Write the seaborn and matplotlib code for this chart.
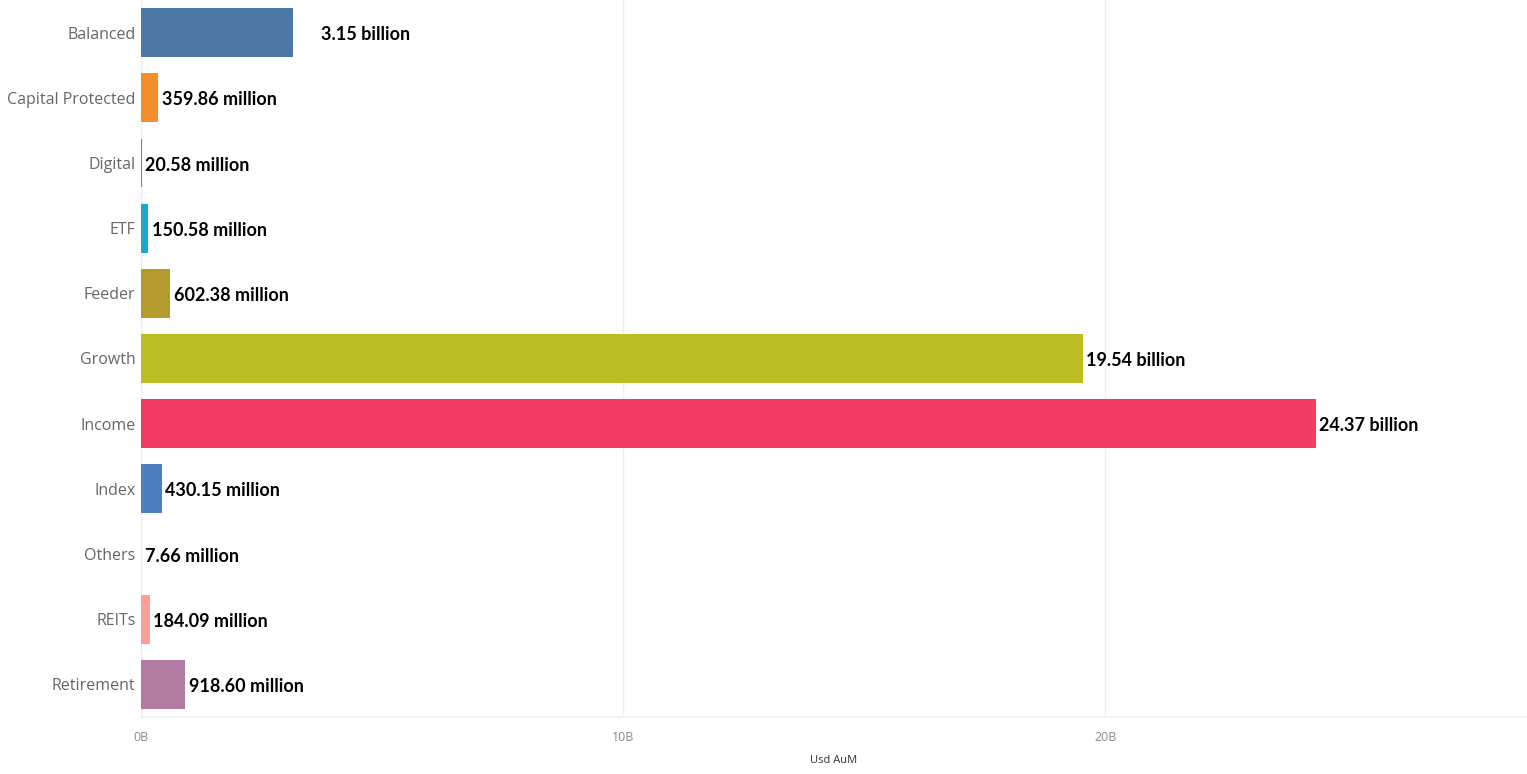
import matplotlib
matplotlib.use("Agg")
import matplotlib.pyplot as plt
import seaborn as sns
import pandas as pd
from matplotlib.ticker import FuncFormatter

categories = ["Balanced", "Capital Protected", "Digital", "ETF", "Feeder", "Growth",
              "Income", "Index", "Others", "REITs", "Retirement"]
aum_usd = [3.15e9, 359.86e6, 20.58e6, 150.58e6, 602.38e6, 19.54e9,
           24.37e9, 430.15e6, 7.66e6, 184.09e6, 918.60e6]
value_labels = ["3.15 billion", "359.86 million", "20.58 million", "150.58 million",
                "602.38 million", "19.54 billion", "24.37 billion", "430.15 million",
                "7.66 million", "184.09 million", "918.60 million"]
bar_colors = ["#4e79a7", "#f28e2b", "#e15759", "#17a8cc", "#b59a2e", "#bcbd22",
              "#f23c62", "#4e7fc2", "#9c755f", "#ff9d9a", "#b07aa1"]

df = pd.DataFrame({"Category": categories, "AuM": aum_usd})

sns.set_theme(style="white")
plt.rcParams["font.family"] = ["Open Sans", "DejaVu Sans"]

fig = plt.figure(figsize=(15.27, 7.74), dpi=100)
ax = fig.add_axes([141 / 1527, 57 / 774, 1 - 141 / 1527, 1 - 57 / 774])

sns.barplot(data=df, x="AuM", y="Category", hue="Category",
            palette=dict(zip(categories, bar_colors)), width=0.75,
            legend=False, ax=ax, saturation=1, linewidth=0)

ax.set_xlim(0, 28.75e9)
ax.set_xticks([0, 10e9, 20e9])
ax.xaxis.set_major_formatter(FuncFormatter(lambda v, p: f"{v / 1e9:.0f}B"))
ax.grid(axis="x", color="#efefef", linewidth=1)
ax.set_axisbelow(True)
for s in ["top", "right", "left"]:
    ax.spines[s].set_visible(False)
ax.spines["bottom"].set_color("#efefef")
ax.axvline(0, color="#efefef", linewidth=1, zorder=0)

ax.tick_params(axis="x", colors="#8a8a8a", labelsize=9, length=0, pad=10)
ax.tick_params(axis="y", colors="#666666", labelsize=11.5, length=0, pad=4)
ax.set_ylabel("")
ax.set_xlabel("Usd AuM", fontsize=8, color="#333333", labelpad=8)

# value labels next to each bar
pads = [20 if c == "Balanced" else 2.5 for c in categories]
for i, (v, lab, pad) in enumerate(zip(aum_usd, value_labels, pads)):
    ax.annotate(lab, xy=(v, i), xytext=(pad, -1.5), textcoords="offset points",
                va="center", ha="left", fontsize=13, fontweight="bold", color="black",
                family=["Lato", "DejaVu Sans"])

fig.savefig("out.png", dpi=100)
